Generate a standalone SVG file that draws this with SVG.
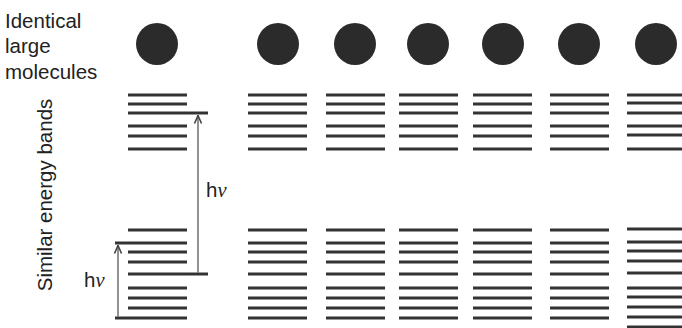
<svg xmlns="http://www.w3.org/2000/svg" width="682" height="328" viewBox="0 0 682 328">
<defs>
<style>
.t{font-family:"Liberation Sans",Arial,sans-serif;font-size:20.5px;fill:#222}
.nu{font-family:"Liberation Serif","Times New Roman",serif;font-style:italic}
.b line{stroke:#333;stroke-width:3}
.m{fill:#2b2b2b}
.a{stroke:#777;stroke-width:1.6;fill:none}
</style>
<marker id="ah" viewBox="0 0 10 10" refX="9.5" refY="5" markerWidth="10" markerHeight="10" orient="auto" markerUnits="userSpaceOnUse">
<path d="M1,1.5 L9,5 L1,8.5" fill="none" stroke="#444" stroke-width="1.6"/>
</marker>
<g id="up" stroke="#333" stroke-width="3">
<line x1="0" y1="95" x2="59" y2="95"/><line x1="0" y1="104" x2="59" y2="104"/><line x1="0" y1="113" x2="59" y2="113"/>
<line x1="0" y1="126" x2="59" y2="126"/><line x1="0" y1="136" x2="59" y2="136"/><line x1="0" y1="149" x2="59" y2="149"/>
</g>
<g id="lo" stroke="#333" stroke-width="3">
<line x1="0" y1="230" x2="59" y2="230"/><line x1="0" y1="243" x2="59" y2="243"/><line x1="0" y1="252" x2="59" y2="252"/>
<line x1="0" y1="262" x2="59" y2="262"/><line x1="0" y1="274" x2="59" y2="274"/><line x1="0" y1="288" x2="59" y2="288"/>
<line x1="0" y1="298" x2="59" y2="298"/><line x1="0" y1="308" x2="59" y2="308"/><line x1="0" y1="318" x2="59" y2="318"/>
</g>
</defs>
<rect width="682" height="328" fill="#fff"/>
<text class="t" x="5" y="28">Identical</text>
<text class="t" x="5" y="53">large</text>
<text class="t" x="5" y="79">molecules</text>
<text class="t" transform="translate(52,195) rotate(-90)" text-anchor="middle">Similar energy bands</text>

<g id="mol1" class="b"><circle class="m" cx="157" cy="44" r="21"/><use href="#up" x="128"/><use href="#lo" x="128"/>
<line x1="187" y1="113" x2="208" y2="113"/><line x1="187" y1="274" x2="208" y2="274"/>
<line x1="115" y1="243" x2="128" y2="243"/><line x1="115" y1="318" x2="128" y2="318"/></g>
<g id="mol2" class="b"><circle class="m" cx="278" cy="44" r="21"/><use href="#up" x="248"/><use href="#lo" x="248"/></g>
<g id="mol3" class="b"><circle class="m" cx="355" cy="44" r="21"/><use href="#up" x="326"/><use href="#lo" x="326"/></g>
<g id="mol4" class="b"><circle class="m" cx="428" cy="44" r="21"/><use href="#up" x="399"/><use href="#lo" x="399"/></g>
<g id="mol5" class="b"><circle class="m" cx="503" cy="44" r="21"/><use href="#up" x="473"/><use href="#lo" x="473"/></g>
<g id="mol6" class="b"><circle class="m" cx="579" cy="44" r="21"/><use href="#up" x="550"/><use href="#lo" x="550"/></g>
<g id="mol7" class="b"><circle class="m" cx="656" cy="44" r="21"/>
<line x1="627" y1="95" x2="690" y2="95"/><line x1="627" y1="103" x2="690" y2="103"/><line x1="627" y1="113" x2="690" y2="113"/>
<line x1="627" y1="126" x2="690" y2="126"/><line x1="627" y1="135" x2="690" y2="135"/><line x1="627" y1="149" x2="690" y2="149"/>
<line x1="627" y1="229" x2="690" y2="229"/><line x1="627" y1="242" x2="690" y2="242"/><line x1="627" y1="251" x2="690" y2="251"/>
<line x1="627" y1="261" x2="690" y2="261"/><line x1="627" y1="273" x2="690" y2="273"/><line x1="627" y1="288" x2="690" y2="288"/>
<line x1="627" y1="297" x2="690" y2="297"/><line x1="627" y1="307" x2="690" y2="307"/><line x1="627" y1="317" x2="690" y2="317"/>
<line x1="627" y1="327" x2="690" y2="327"/></g>

<g id="connectors">
<line class="a" x1="198" y1="273" x2="198" y2="115" marker-end="url(#ah)"/>
<line class="a" x1="118" y1="317" x2="118" y2="245" marker-end="url(#ah)"/>
</g>
<text class="t" x="206" y="197">h<tspan class="nu">ν</tspan></text>
<text class="t" x="84" y="287">h<tspan class="nu">ν</tspan></text>
</svg>
